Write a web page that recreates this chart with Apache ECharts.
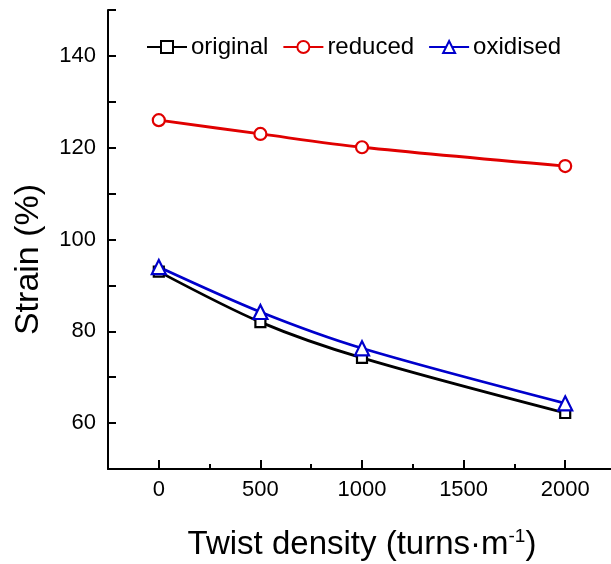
<!DOCTYPE html>
<html><head><meta charset="utf-8">
<script src="https://cdn.jsdelivr.net/npm/echarts@6/dist/echarts.min.js"></script>
<style>html,body{margin:0;padding:0;background:#fff}#c{width:611px;height:564px}</style>
</head><body><div id="c"></div>
<script>
const twist = [0, 500, 1000, 2000];
const original = [93, 82, 74.2, 62.2];
const reduced = [126, 123, 120.1, 116];
const oxidised = [94, 84.2, 76.3, 64.3];
const xTicks = [0, 500, 1000, 1500, 2000];
const xMinorTicks = [250, 750, 1250, 1750];
const yTicks = [60, 80, 100, 120, 140];

const F = 'Liberation Sans, Arial, sans-serif';
const chart = echarts.init(document.getElementById('c'));
function pts(arr){ return twist.map((x,i)=>[x, arr[i]]); }
const mk = (name, data, color, symbol, size) => ({
  name, type:'line', data: pts(data), smooth: 0.3,
  symbol, symbolSize: size, showSymbol: true, xAxisIndex:0,
  lineStyle:{color, width:2.8},
  itemStyle:{color:'#fff', borderColor:color, borderWidth:2.2},
  emphasis:{disabled:true}
});
chart.setOption({
  animation:false,
  textStyle:{fontFamily:F},
  grid:{left:108, top:10, right:-5, bottom:95, outerBoundsMode:'none', containLabel:false},
  legend:{
    left:141, top:30, itemGap:14, itemWidth:40, itemHeight:15,
    textStyle:{fontSize:24, color:'#000', fontFamily:F, padding:[0,0,0,-1]},
    data:['original','reduced','oxidised']
  },
  xAxis:[{
    type:'value', min:-250, max:2250, interval:250,
    axisLine:{onZero:false, lineStyle:{color:'#000', width:2}},
    axisTick:{inside:true, length:9, customValues: xTicks, lineStyle:{color:'#000', width:2}},
    splitLine:{show:false},
    axisLabel:{fontSize:22, color:'#000', margin:10, fontFamily:F, customValues: xTicks,
      formatter: v => String(v)},
    name:'{a|Twist density (turns·m}{s|-1}{a|)}',
    nameLocation:'middle', nameGap:58,
    nameTextStyle:{rich:{
      a:{fontSize:33, color:'#000', fontFamily:F, lineHeight:36},
      s:{fontSize:19, color:'#000', fontFamily:F, lineHeight:36, verticalAlign:'top', padding:[0,0,16,0]}}}
  },{
    type:'value', min:-250, max:2250, interval:250, position:'bottom',
    axisLine:{show:false, onZero:false},
    axisTick:{inside:true, length:5, customValues: xMinorTicks, lineStyle:{color:'#000', width:2}},
    splitLine:{show:false}, axisLabel:{show:false}
  }],
  yAxis:{
    type:'value', min:50, max:150, interval:10,
    axisLine:{show:true, onZero:false, lineStyle:{color:'#000', width:2}},
    axisTick:{inside:true, length:8, lineStyle:{color:'#000', width:2}},
    splitLine:{show:false},
    axisLabel:{fontSize:22, color:'#000', margin:12, fontFamily:F, customValues: yTicks,
      formatter: v => String(v)},
    name:'Strain (%)', nameLocation:'middle', nameGap:62,
    nameTextStyle:{fontSize:34, color:'#000', fontFamily:F, padding:[0,40,0,0]}
  },
  series:[
    mk('original', original, '#000000', 'rect', 10),
    mk('reduced', reduced, '#e00000', 'circle', 12),
    mk('oxidised', oxidised, '#0000cc', 'triangle', 14)
  ]
});
</script></body></html>
